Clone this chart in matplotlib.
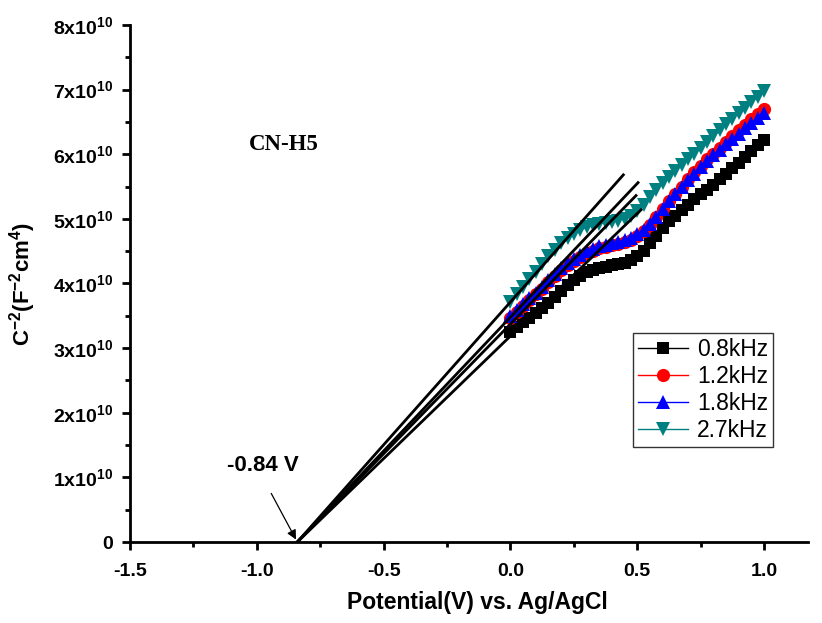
import numpy as np
import matplotlib
matplotlib.use('Agg')
import matplotlib.pyplot as plt
from matplotlib.ticker import FixedLocator

plt.rcParams['font.family'] = ['Liberation Sans', 'DejaVu Sans']
plt.rcParams['mathtext.fontset'] = 'custom'
plt.rcParams['mathtext.rm'] = 'Liberation Sans:bold'
plt.rcParams['mathtext.bf'] = 'Liberation Sans:bold'
plt.rcParams['mathtext.it'] = 'Liberation Sans:bold'

# potential (V) for every sample
potential = [i * 0.025 for i in range(41)]

# C^-2 in units of 1e10 F^-2 cm^4
c_08 = [3.25, 3.32, 3.40, 3.47, 3.55, 3.62, 3.70, 3.79, 3.88, 3.97, 4.05, 4.12, 4.17, 4.21,
        4.24, 4.26, 4.28, 4.30, 4.32, 4.36, 4.42, 4.51, 4.62, 4.74, 4.86, 4.96, 5.05, 5.14,
        5.22, 5.30, 5.38, 5.45, 5.53, 5.61, 5.70, 5.78, 5.87, 5.96, 6.05, 6.14, 6.22]
c_12 = [3.47, 3.56, 3.65, 3.74, 3.83, 3.92, 4.02, 4.12, 4.21, 4.28, 4.35, 4.41, 4.47, 4.51,
        4.55, 4.57, 4.59, 4.61, 4.64, 4.68, 4.73, 4.81, 4.91, 5.03, 5.15, 5.27, 5.39, 5.50,
        5.62, 5.72, 5.82, 5.92, 6.01, 6.10, 6.19, 6.28, 6.37, 6.45, 6.54, 6.62, 6.70]
c_18 = [3.50, 3.59, 3.68, 3.77, 3.86, 3.95, 4.05, 4.15, 4.24, 4.31, 4.38, 4.44, 4.50, 4.54,
        4.58, 4.60, 4.62, 4.64, 4.67, 4.71, 4.76, 4.83, 4.92, 5.03, 5.15, 5.27, 5.38, 5.49,
        5.60, 5.70, 5.80, 5.89, 5.98, 6.07, 6.15, 6.24, 6.32, 6.40, 6.48, 6.56, 6.63]
c_27 = [3.72, 3.84, 3.95, 4.07, 4.18, 4.30, 4.42, 4.52, 4.62, 4.70, 4.77, 4.82, 4.87, 4.90,
        4.92, 4.94, 4.95, 4.97, 5.00, 5.05, 5.12, 5.22, 5.33, 5.44, 5.55, 5.65, 5.74, 5.83,
        5.92, 6.01, 6.10, 6.19, 6.28, 6.37, 6.46, 6.55, 6.63, 6.72, 6.80, 6.89, 6.97]

labels = ['0.8kHz', '1.2kHz', '1.8kHz', '2.7kHz']

# Mott-Schottky extrapolation lines: (x start, x end, y end)
fit_x0 = [-0.84, -0.84, -0.84, -0.84]
fit_x1 = [0.445, 0.503, 0.495, 0.515]
fit_y1 = [5.68, 5.56, 5.36, 5.14]

flat_band = -0.84

x_ticks = [-1.5, -1.0, -0.5, 0.0, 0.5, 1.0]
y_ticks = [0, 1, 2, 3, 4, 5, 6, 7, 8]

fig = plt.figure(figsize=(8.22, 6.23), dpi=100)
ax = fig.add_axes([0.158, 0.130, 0.825, 0.830])

series = [(c_08, 'black', 's', 8.5), (c_12, 'red', 'o', 9.5),
          (c_18, 'blue', '^', 9.5), (c_27, '#008080', 'v', 9.5)]
pot = np.array(potential)
for (vals, col, mk, ms), lab in zip(series, labels):
    ax.plot(pot, np.array(vals) * 1e10, color=col, marker=mk, markersize=ms,
            markeredgewidth=0, lw=1, label=lab, zorder=2)

for x0, x1, y1 in zip(fit_x0, fit_x1, fit_y1):
    ax.plot([x0, x1], [0, y1 * 1e10], color='black', lw=2, zorder=3)

ax.annotate('', xy=(flat_band, 0), xytext=(-0.948, 0.79e10),
            arrowprops=dict(arrowstyle='-|>', color='black', lw=0.9, mutation_scale=14))
ax.text(-0.975, 1.19e10, '%.2f V' % flat_band, fontsize=16, fontweight='bold',
        ha='center', va='center')
ax.text(-0.893, 6.15e10, 'CN-H5', fontsize=16.5, fontweight='bold',
        family='Liberation Serif', ha='center', va='center')

ax.set_xlim(-1.5, 1.173)
ax.set_ylim(0, 8e10)
ax.xaxis.set_major_locator(FixedLocator(x_ticks))
ax.xaxis.set_minor_locator(FixedLocator([t + 0.25 for t in x_ticks]))
ax.yaxis.set_major_locator(FixedLocator([v * 1e10 for v in y_ticks]))
ax.yaxis.set_minor_locator(FixedLocator([(v + 0.5) * 1e10 for v in y_ticks[:-1]]))
ax.set_xticklabels(['%.1f' % v for v in x_ticks])
ax.set_yticklabels(['0'] + ['%dx10$^{10}$' % v for v in y_ticks[1:]])
for t in ax.get_xticklabels() + ax.get_yticklabels():
    t.set_fontweight('bold')
    t.set_fontsize(14)

for s in ['top', 'right']:
    ax.spines[s].set_visible(False)
for s in ['left', 'bottom']:
    ax.spines[s].set_linewidth(2.0)
ax.tick_params(which='major', direction='out', length=6, width=2.0)
ax.tick_params(which='minor', direction='out', length=3.5, width=2.0)
ax.tick_params(axis='x', which='major', pad=9)
ax.tick_params(axis='y', which='major', pad=6)

ax.set_xlabel('Potential(V) vs. Ag/AgCl', fontsize=16.5, fontweight='bold')
ax.xaxis.set_label_coords(0.513, -0.095)
ax.set_ylabel('C$^{-2}$(F$^{-2}$cm$^{4}$)', fontsize=16, fontweight='bold')
ax.yaxis.set_label_coords(-0.135, 0.5)

leg = ax.legend(loc='upper left', bbox_to_anchor=(0.742, 0.404), fontsize=16.5,
                frameon=True, fancybox=False, edgecolor='black', handlelength=2.2,
                borderpad=0.2, labelspacing=0.18, handletextpad=0.4, borderaxespad=0)
leg.get_frame().set_linewidth(1.0)

fig.savefig('out.png', dpi=100)
